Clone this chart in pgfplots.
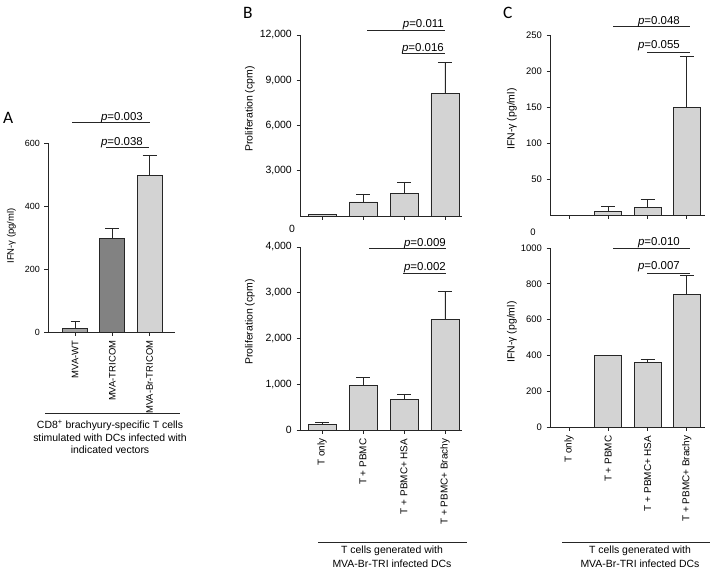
\documentclass[border=0pt]{standalone}
\usepackage{pgfplots}
\pgfplotsset{compat=1.18}
\usepackage{fontspec}
\setmainfont{Liberation Sans}
\newfontfamily\carlito{Carlito}
\definecolor{barlight}{HTML}{D3D3D3}
\definecolor{barmid}{HTML}{A3A3A3}
\definecolor{bardark}{HTML}{828282}
\definecolor{edge}{HTML}{262626}
\pgfplotsset{
  panel/.style={
    scale only axis,
    axis x line*=bottom, axis y line*=left,
    axis line style={-, line width=1bp, black!85},
    tick align=outside, major tick length=3.5bp,
    tick style={line width=0.8bp, black!85},
    /pgf/number format/assume math mode=true,
    scaled y ticks=false,
    ymin=0, clip=false,
    xtick={1,2,3,4},
    xticklabel style={rotate=90, anchor=east, font=\fontsize{10}{12}\selectfont, inner sep=5bp},
    yticklabel style={font=\fontsize{10.5}{12}\selectfont, inner sep=4.5bp},
  },
  bars/.style={ybar, bar width=#1, fill=barlight, draw=edge, line width=0.8bp,
    error bars/y dir=plus, error bars/y explicit,
    error bars/error bar style={line width=0.8bp, edge},
    error bars/error mark options={rotate=90, line width=0.8bp, edge, mark size=7bp}},
}
\begin{document}
\begin{tikzpicture}
\useasboundingbox (0,0) rectangle (714bp,-571bp);

% ---------------- Panel A ----------------
\begin{axis}[panel, at={(48bp,-332bp)}, anchor=south west, width=127bp, height=189bp,
  xmin=0.276, xmax=3.68, ymax=600, ytick={0,200,400,600}, xtick={1,2,3},
  xticklabels={MVA-WT,MVA-TRICOM,MVA-Br-TRICOM},
  yticklabel style={font=\fontsize{9}{11}\selectfont},
  xticklabel style={font=\fontsize{9.5}{11}\selectfont}]
\addplot[bars=0.67, fill=barmid, error bars/error mark options={rotate=90, line width=0.8bp, edge, mark size=4.5bp}]
  coordinates {(1,13) +- (0,22)};
\addplot[bars=0.67, fill=bardark] coordinates {(2,298) +- (0,32)};
\addplot[bars=0.67, fill=barlight] coordinates {(3,498) +- (0,64)};
\end{axis}

% ---------------- Panel B top ----------------
\begin{axis}[panel, at={(300bp,-216bp)}, anchor=south west, width=162bp, height=181bp,
  xmin=0.463, xmax=4.415, ymax=12000, ytick={3000,6000,9000,12000},
  /pgf/number format/1000 sep={,}, xticklabels={}]
\addplot[bars=0.683] coordinates {(1,100) +- (0,30) (2,930) +- (0,530) (3,1520) +- (0,740) (4,8100) +- (0,2100)};
\end{axis}

% ---------------- Panel B bottom ----------------
\begin{axis}[panel, at={(300bp,-430bp)}, anchor=south west, width=162bp, height=183bp,
  xmin=0.463, xmax=4.415, ymax=4000, ytick={0,1000,2000,3000,4000},
  /pgf/number format/1000 sep={,},
  xticklabels={T only,T + PBMC,T + PBMC+ HSA,T + PBMC+ Brachy}]
\addplot[bars=0.683] coordinates {(1,130) +- (0,30) (2,980) +- (0,170) (3,670) +- (0,110) (4,2420) +- (0,600)};
\end{axis}

% ---------------- Panel C top ----------------
\begin{axis}[panel, at={(550bp,-215bp)}, anchor=south west, width=155bp, height=180bp,
  xmin=0.517, xmax=4.461, ymax=250, ytick={50,100,150,200,250}, xticklabels={},
  yticklabel style={font=\fontsize{9.5}{11}\selectfont}]
\addplot[bars=0.687] coordinates {(2,5.5) +- (0,7) (3,11) +- (0,11) (4,150) +- (0,70)};
\end{axis}

% ---------------- Panel C bottom ----------------
\begin{axis}[panel, at={(550bp,-427bp)}, anchor=south west, width=155bp, height=179bp,
  xmin=0.517, xmax=4.461, ymax=1000, ytick={0,200,400,600,800,1000},
  /pgf/number format/1000 sep={},
  yticklabel style={font=\fontsize{9.5}{11}\selectfont},
  xticklabels={T only,T + PBMC,T + PBMC+ HSA,T + PBMC+ Brachy}]
\addplot[bars=0.687] coordinates {(2,400) +- (0,2) (3,362) +- (0,18) (4,743) +- (0,102)};
\end{axis}

% ---------------- annotations ----------------
\begin{scope}[line width=0.9bp, black!85]
% A
\draw (72bp,-122bp) -- (150bp,-122bp);
\draw (106bp,-147bp) -- (149bp,-147bp);
% B top
\draw (367bp,-30bp) -- (445bp,-30bp);
\draw (402bp,-53bp) -- (445bp,-53bp);
% B bottom
\draw (369bp,-248bp) -- (446bp,-248bp);
\draw (403bp,-273bp) -- (446bp,-273bp);
% C top
\draw (613bp,-26bp) -- (690bp,-26bp);
\draw (647bp,-52bp) -- (690bp,-52bp);
% C bottom
\draw (613bp,-248bp) -- (690bp,-248bp);
\draw (647bp,-273bp) -- (690bp,-273bp);
% brackets
\draw (45bp,-413bp) -- (180bp,-413bp);
\draw (318bp,-542bp) -- (467bp,-542bp);
\draw (562bp,-542bp) -- (710bp,-542bp);
\end{scope}

\begin{scope}[every node/.style={anchor=base east, inner sep=0pt, font=\fontsize{11.5}{13}\selectfont}]
\node at (143bp,-120bp) {\textit{p}=0.003};
\node at (143bp,-145bp) {\textit{p}=0.038};
\node at (444bp,-27.7bp) {\textit{p}=0.011};
\node at (444bp,-51.5bp) {\textit{p}=0.016};
\node at (446bp,-246.5bp) {\textit{p}=0.009};
\node at (446bp,-270bp) {\textit{p}=0.002};
\node at (680bp,-24bp) {\textit{p}=0.048};
\node at (680bp,-48.3bp) {\textit{p}=0.055};
\node at (680bp,-245.7bp) {\textit{p}=0.010};
\node at (680bp,-269bp) {\textit{p}=0.007};
\end{scope}

% displaced zero labels
\node[font=\fontsize{10.5}{12}\selectfont] at (292bp,-229bp) {0};
\node[font=\fontsize{9.5}{11}\selectfont] at (533bp,-232bp) {0};

% y labels
\node[rotate=90, font=\fontsize{9.5}{11}\selectfont] at (11.5bp,-236bp) {IFN-γ (pg/ml)};
\node[rotate=90, font=\fontsize{10.5}{12}\selectfont] at (250bp,-109bp) {Proliferation (cpm)};
\node[rotate=90, font=\fontsize{10.5}{12}\selectfont] at (250bp,-322bp) {Proliferation (cpm)};
\node[rotate=90, font=\fontsize{10.5}{12}\selectfont] at (512bp,-119bp) {IFN-γ (pg/ml)};
\node[rotate=90, font=\fontsize{10.5}{12}\selectfont] at (512bp,-332bp) {IFN-γ (pg/ml)};

% bottom texts
\begin{scope}[every node/.style={anchor=base, inner sep=0pt, font=\fontsize{10.5}{12}\selectfont}]
\node at (110bp,-428bp) {CD8\textsuperscript{+} brachyury-specific T cells};
\node at (110bp,-441bp) {stimulated with DCs infected with};
\node at (110bp,-453bp) {indicated vectors};
\node at (392bp,-553bp) {T cells generated with};
\node at (392bp,-567bp) {MVA-Br-TRI infected DCs};
\node at (640bp,-553bp) {T cells generated with};
\node at (640bp,-567bp) {MVA-Br-TRI infected DCs};
\end{scope}

% panel letters
\node[anchor=base west, inner sep=0pt, font=\carlito\fontsize{17.5}{20}\selectfont] at (3bp,-123bp) {A};
\node[anchor=base west, inner sep=0pt, font=\carlito\fontsize{17.5}{20}\selectfont] at (243bp,-18bp) {B};
\node[anchor=base west, inner sep=0pt, font=\carlito\fontsize{17.5}{20}\selectfont] at (503bp,-18bp) {C};
\end{tikzpicture}
\end{document}
